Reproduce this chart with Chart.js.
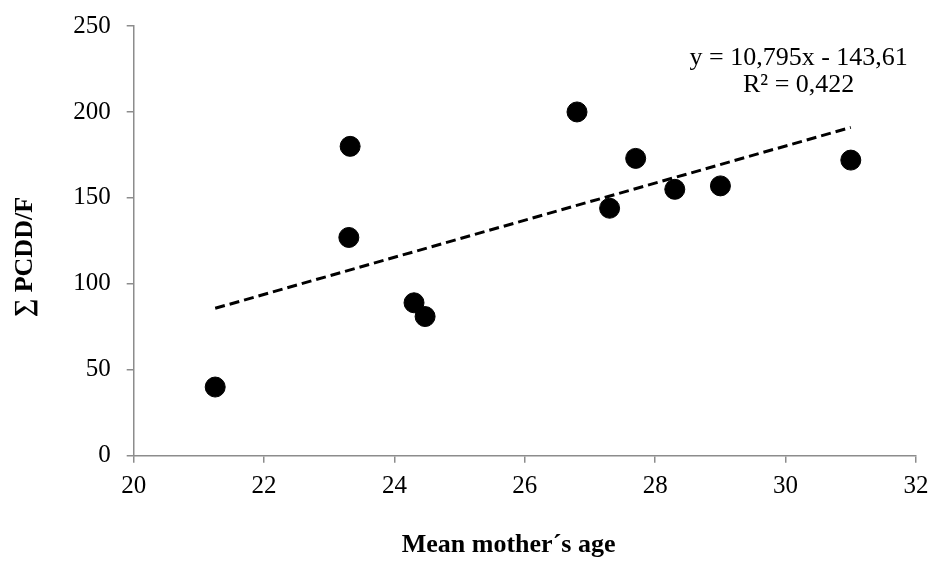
<!DOCTYPE html>
<html>
<head>
<meta charset="utf-8">
<script src="https://cdn.jsdelivr.net/npm/chart.js@4.4.0/dist/chart.umd.min.js"></script>
<style>
  html, body { margin: 0; padding: 0; background: #fff; }
  #wrap { width: 930px; height: 561px; }
</style>
</head>
<body>
<div id="wrap"><canvas id="myChart" width="930" height="561"></canvas></div>
<script>
// mean mother's age vs sum PCDD/F
var ages = [21.25, 23.3, 23.32, 24.3, 24.47, 26.8, 27.3, 27.7, 28.3, 29.0, 31.0];
var pcdd = [40, 127, 180, 89, 81, 200, 144, 173, 155, 157, 172];

// linear trend (end points)
var trendX = [21.25, 31.0];
var trendY = [85.8, 191.0];

var xTicks = [20, 22, 24, 26, 28, 30, 32];
var yTicks = [0, 50, 100, 150, 200, 250];

var eqLines = ['y = 10,795x - 143,61', 'R\u00b2 = 0,422'];

var axisGray = '#8c8c8c';
var serif = "'Liberation Serif', 'Times New Roman', serif";

var points = ages.map(function (a, i) { return { x: a, y: pcdd[i] }; });
var trend = trendX.map(function (a, i) { return { x: a, y: trendY[i] }; });

var eqLabel = {
    id: 'eqLabel',
    afterDraw: function (chart) {
        var c = chart.ctx;
        var xs = chart.scales.x, ys = chart.scales.y;
        c.save();
        c.fillStyle = '#000';
        c.font = '26px ' + serif;
        c.textAlign = 'center';
        c.textBaseline = 'middle';
        c.fillText(eqLines[0], xs.getPixelForValue(30.2), ys.getPixelForValue(231.5));
        c.fillText(eqLines[1], xs.getPixelForValue(30.2), ys.getPixelForValue(215.5));
        c.restore();
    }
};

var ctx = document.getElementById('myChart').getContext('2d');
var myChart = new Chart(ctx, {
    type: 'scatter',
    data: {
        datasets: [{
            data: points,
            backgroundColor: '#000',
            borderColor: '#000',
            pointRadius: 10,
            pointHoverRadius: 10,
            showLine: false
        }, {
            type: 'line',
            data: trend,
            borderColor: '#000',
            borderWidth: 3,
            borderDash: [10, 5],
            pointRadius: 0,
            fill: false
        }]
    },
    options: {
        responsive: false,
        animation: false,
        layout: {
            padding: { left: 4, right: 14, top: 26, bottom: 0 }
        },
        plugins: {
            legend: { display: false },
            tooltip: { enabled: false }
        },
        scales: {
            x: {
                type: 'linear',
                min: 20,
                max: 32,
                afterBuildTicks: function (axis) {
                    axis.ticks = xTicks.map(function (v) { return { value: v }; });
                },
                afterFit: function (axis) {
                    axis.paddingRight = 0;
                },
                ticks: {
                    color: '#000',
                    padding: 9,
                    font: { family: serif, size: 25 }
                },
                grid: {
                    drawOnChartArea: false,
                    drawTicks: true,
                    tickLength: 7,
                    color: axisGray,
                    lineWidth: 1.5
                },
                border: { color: axisGray, width: 1.5 },
                title: {
                    display: true,
                    // trailing spaces nudge the title a bit left, like the original
                    text: 'Mean mother\u00b4s age\u00a0\u00a0\u00a0\u00a0\u00a0',
                    color: '#000',
                    font: { family: serif, size: 26, weight: 'bold' },
                    padding: { top: 19, bottom: 0 }
                }
            },
            y: {
                min: 0,
                max: 250,
                afterBuildTicks: function (axis) {
                    axis.ticks = yTicks.map(function (v) { return { value: v }; });
                },
                afterFit: function (axis) {
                    axis.paddingTop = 0;
                },
                ticks: {
                    color: '#000',
                    padding: 16,
                    font: { family: serif, size: 25 }
                },
                grid: {
                    drawOnChartArea: false,
                    drawTicks: true,
                    tickLength: 7,
                    color: axisGray,
                    lineWidth: 1.5
                },
                border: { color: axisGray, width: 1.5 },
                title: {
                    display: true,
                    text: '\u2211 PCDD/F\u00a0\u00a0\u00a0\u00a0\u00a0',
                    color: '#000',
                    font: { family: serif, size: 26, weight: 'bold' },
                    padding: { top: 6, bottom: 16 }
                }
            }
        }
    },
    plugins: [eqLabel]
});
</script>
</body>
</html>
